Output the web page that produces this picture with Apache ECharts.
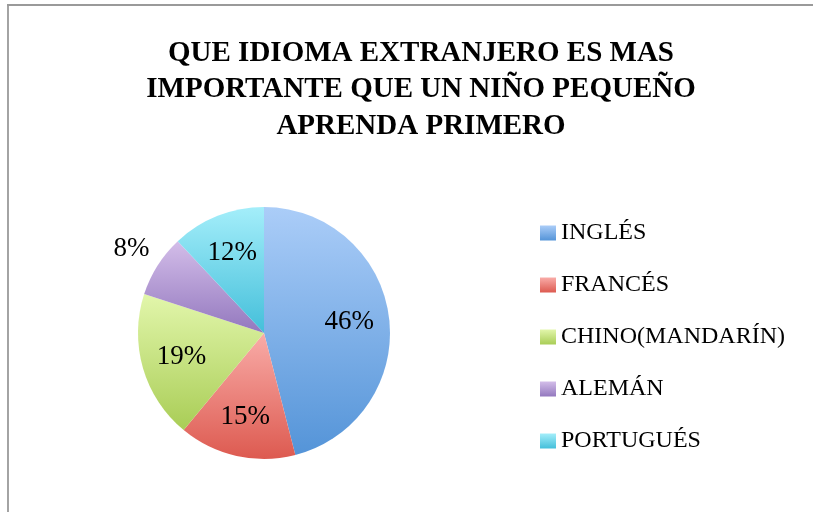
<!DOCTYPE html>
<html>
<head>
<meta charset="utf-8">
<script src="https://cdn.jsdelivr.net/npm/echarts@6/dist/echarts.min.js"></script>
<style>
  html, body { margin: 0; padding: 0; background: #fff; }
  #chart { width: 813px; height: 512px; }
</style>
</head>
<body>
<div id="chart"></div>
<script>
// datos
const idiomas = ['INGLÉS', 'FRANCÉS', 'CHINO(MANDARÍN)', 'ALEMÁN', 'PORTUGUÉS'];
const porcentajes = [46, 15, 19, 8, 12];
const coloresClaros = ['#abcdf8', '#f9aca8', '#e2f6ab', '#d3bde9', '#a4eefa'];
const coloresOscuros = ['#5494d8', '#dd5a50', '#a9cd56', '#9378be', '#44bfda'];
const titulo = 'QUE IDIOMA EXTRANJERO ES MAS\nIMPORTANTE QUE UN NIÑO PEQUEÑO\nAPRENDA PRIMERO';

const serif = '"Liberation Serif", "DejaVu Serif", serif';

const chart = echarts.init(document.getElementById('chart'), null, { renderer: 'canvas' });

function gradiente(i) {
  return new echarts.graphic.LinearGradient(0, 0, 0, 1, [
    { offset: 0, color: coloresClaros[i] },
    { offset: 1, color: coloresOscuros[i] }
  ]);
}

// la porcion de ALEMÁN lleva su etiqueta afuera
const fuera = idiomas.indexOf('ALEMÁN');

const datosPie = idiomas.map((n, i) => ({
  name: n,
  value: porcentajes[i],
  itemStyle: { color: gradiente(i) },
  label: { show: i === fuera }
}));

const datosEtiquetas = idiomas.map((n, i) => ({
  name: n,
  value: porcentajes[i],
  label: { show: i !== fuera }
}));

chart.setOption({
  backgroundColor: '#fff',
  animation: false,
  title: {
    text: titulo,
    left: 416,
    top: 30,
    textAlign: 'center',
    textStyle: {
      fontFamily: serif,
      fontWeight: 'bold',
      fontSize: 29,
      lineHeight: 36.5,
      color: '#000'
    }
  },
  legend: {
    orient: 'vertical',
    left: 535,
    top: 216,
    icon: 'rect',
    itemWidth: 16,
    itemHeight: 15,
    itemGap: 28,
    data: idiomas,
    selectedMode: false,
    textStyle: {
      fontFamily: serif,
      fontSize: 24,
      lineHeight: 24,
      color: '#000'
    }
  },
  series: [
    {
      type: 'pie',
      center: [264, 333],
      radius: [0, 126],
      startAngle: 90,
      clockwise: true,
      silent: true,
      emphasis: { disabled: true },
      label: {
        position: 'outside',
        formatter: '{c}%',
        fontFamily: serif,
        fontSize: 27,
        color: '#000',
        distanceToLabelLine: 0
      },
      labelLine: { show: false, length: 31, length2: 0 },
      labelLayout: function (p) {
        return p.dataIndex === fuera ? { align: 'center', verticalAlign: 'middle' } : {};
      },
      data: datosPie
    },
    {
      type: 'pie',
      center: [264, 333],
      radius: [0, 166],
      startAngle: 90,
      clockwise: true,
      silent: true,
      emphasis: { disabled: true },
      itemStyle: { color: 'rgba(0,0,0,0)', borderWidth: 0 },
      label: {
        position: 'inside',
        formatter: '{c}%',
        fontFamily: serif,
        fontSize: 27,
        color: '#000'
      },
      labelLine: { show: false },
      data: datosEtiquetas
    }
  ],
  graphic: [
    {
      type: 'line',
      shape: { x1: 8, y1: 4, x2: 8, y2: 512 },
      style: { stroke: '#9a9a9a', lineWidth: 1.8 },
      silent: true
    },
    {
      type: 'line',
      shape: { x1: 7, y1: 5, x2: 813, y2: 5 },
      style: { stroke: '#9a9a9a', lineWidth: 1.8 },
      silent: true
    }
  ]
});
</script>
</body>
</html>
